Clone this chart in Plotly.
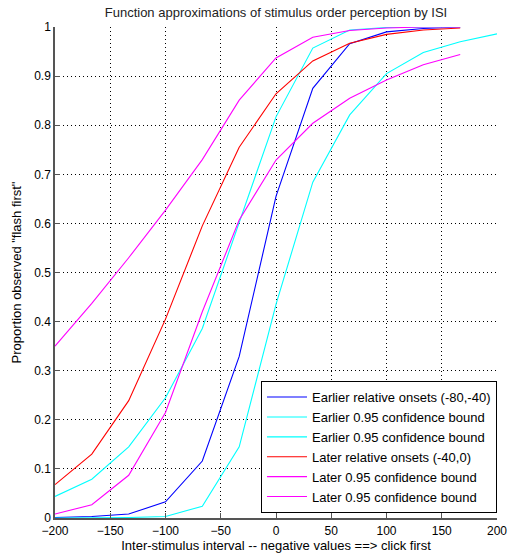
import plotly.graph_objects as go

isi = [-200, -166.7, -133.3, -100, -66.7, -33.3, 0, 33.3, 66.7, 100, 133.3, 166.7, 200]
tick_vals_x = [-200, -150, -100, -50, 0, 50, 100, 150, 200]
tick_vals_y = [0, 0.1, 0.2, 0.3, 0.4, 0.5, 0.6, 0.7, 0.8, 0.9, 1]
tick_text_y = ["0", "0.1", "0.2", "0.3", "0.4", "0.5", "0.6", "0.7", "0.8", "0.9", "1"]

earlier_fit = [0.001, 0.003, 0.008, 0.033, 0.116, 0.329, 0.655, 0.875, 0.966, 0.990, 0.997, 1.0]
earlier_lo = [0.0, 0.0, 0.001, 0.003, 0.024, 0.145, 0.435, 0.684, 0.821, 0.905, 0.948, 0.970, 0.986]
earlier_hi = [0.044, 0.079, 0.145, 0.245, 0.386, 0.600, 0.817, 0.957, 0.994, 0.999, 1.0, 1.0]
later_fit = [0.068, 0.130, 0.239, 0.405, 0.595, 0.755, 0.864, 0.931, 0.967, 0.985, 0.994, 0.998]
later_lo = [0.008, 0.027, 0.087, 0.215, 0.420, 0.607, 0.729, 0.804, 0.855, 0.892, 0.923, 0.944]
later_hi = [0.350, 0.437, 0.530, 0.627, 0.730, 0.851, 0.937, 0.979, 0.993, 0.998, 1.0, 1.0]

series = [
    ("Earlier relative onsets (-80,-40)", earlier_fit, "#0000FF"),
    ("Earlier 0.95 confidence bound", earlier_lo, "#00FFFF"),
    ("Earlier 0.95 confidence bound", earlier_hi, "#00FFFF"),
    ("Later relative onsets (-40,0)", later_fit, "#FF0000"),
    ("Later 0.95 confidence bound", later_lo, "#FF00FF"),
    ("Later 0.95 confidence bound", later_hi, "#FF00FF"),
]

FONT = "Liberation Sans, Arial, Helvetica, sans-serif"

fig = go.Figure()
for name, ys, col in series:
    fig.add_trace(go.Scatter(x=isi[:len(ys)], y=ys, mode="lines", name=name,
                             line=dict(color=col, width=1.1)))

axis_common = dict(
    showgrid=True, gridcolor="#000000", griddash="1px,3px", gridwidth=1,
    showline=True, linecolor="#555555", linewidth=1.5,
    ticks="inside", ticklen=5, tickcolor="#555555",
    zeroline=False, mirror=False, automargin=False,
    tickfont=dict(family=FONT, size=12, color="#000000"),
)

fig.update_layout(
    width=509, height=556,
    margin=dict(l=55, r=12, t=27, b=38),
    paper_bgcolor="white", plot_bgcolor="white",
    font=dict(family=FONT, size=12, color="#000000"),
    title=dict(text="Function approximations of stimulus order perception by ISI",
               x=0.5, xref="paper", xanchor="center",
               yref="container", y=1 - 12 / 556, yanchor="middle",
               font=dict(family=FONT, size=13, color="#222222")),
    xaxis=dict(range=[-200, 200], tickvals=tick_vals_x, ticklabelstandoff=1,
               title=dict(text="Inter-stimulus interval -- negative values ==> click first",
                          font=dict(family=FONT, size=13), standoff=1),
               **axis_common),
    yaxis=dict(range=[0, 1], tickvals=tick_vals_y, ticktext=tick_text_y,
               title=dict(text='Proportion observed "flash first"',
                          font=dict(family=FONT, size=13), standoff=10),
               **axis_common),
    legend=dict(x=1, xanchor="right", y=0.01, yanchor="bottom",
                bgcolor="white", bordercolor="#000000", borderwidth=1,
                font=dict(family=FONT, size=13), itemwidth=40,
                tracegroupgap=0),
    showlegend=True,
)

fig.write_html("out.html")
